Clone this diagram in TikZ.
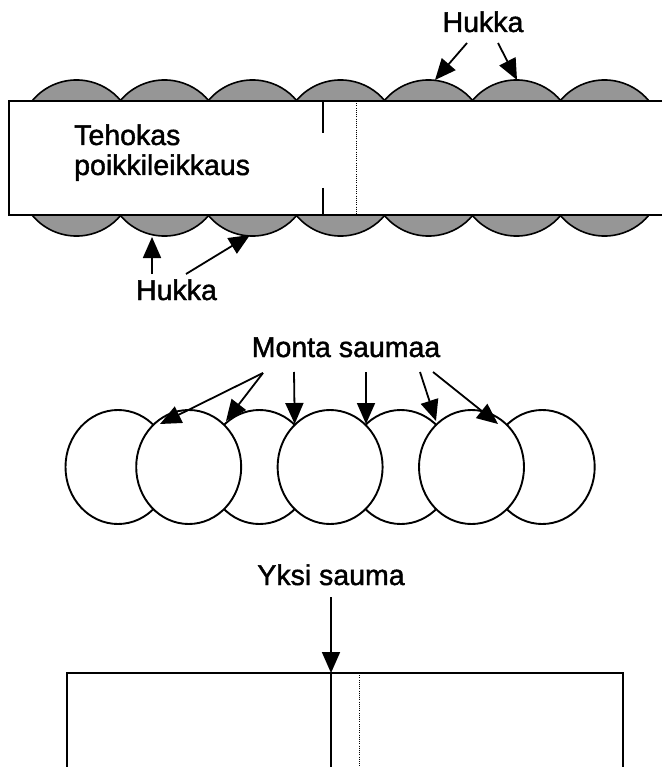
\documentclass[tikz,border=0pt]{standalone}
\usepackage{fontspec}
\setmainfont{Liberation Sans}
\newfontfamily\lblfont[FakeBold=1.5]{Liberation Sans}
\usetikzlibrary{arrows.meta}
\definecolor{hukkagray}{RGB}{150,150,150}
\begin{document}
\begin{tikzpicture}[x=1pt,y=-1pt,
  lbl/.style={font=\lblfont\fontsize{28.5}{30}\selectfont, inner sep=0pt, anchor=base},
  arr/.style={line width=1.8pt, -{Triangle[length=21pt,width=18pt]}},
  edgeline/.style={line width=1.5pt},
  seamline/.style={line width=0.8pt, dash pattern=on 1pt off 1.2pt},
  hukkacap/.style={line width=1.6pt, fill=hukkagray},
  ring/.style={line width=1.9pt, fill=white}
]
\useasboundingbox (0,0) rectangle (662,767);

% ---------- top section: waste caps ----------
\foreach \i in {0,...,6}{
  \pgfmathsetmacro\xa{32+88*\i}
  \draw[hukkacap] (\xa,101) arc[start angle=219.4,end angle=320.6,radius=57.6] -- cycle;
  \draw[hukkacap] (\xa,215) arc[start angle=140.6,end angle=39.4,radius=57.6] -- cycle;
}
% rectangle (open to the right)
\draw[edgeline] (662,101) -- (9,101) -- (9,215) -- (662,215);
\draw[edgeline] (323,101) -- (323,133);
\draw[edgeline] (323,188) -- (323,215);
\draw[seamline] (356,101) -- (356,215);

\node[lbl, anchor=base west] (teho) at (74,145) {Tehokas};
\node[lbl, anchor=base west] (poikki) at (74,175) {poikkileikkaus};

% top Hukka label and arrows
\node[lbl] (hukkaT) at (483,32) {Hukka};
\coordinate (hTs1) at (467,43);
\coordinate (hTs2) at (498,43);
\coordinate (hTt1) at (435,80);
\coordinate (hTt2) at (517,80);
\draw[arr] (hTs1) -- (hTt1);
\draw[arr] (hTs2) -- (hTt2);

% bottom Hukka label and arrows
\node[lbl] (hukkaB) at (176.5,300) {Hukka};
\coordinate (hBs1) at (152,274);
\coordinate (hBs2) at (186,274);
\coordinate (hBt1) at (152,237);
\coordinate (hBt2) at (250,235);
\draw[arr] (hBs1) -- (hBt1);
\draw[arr] (hBs2) -- (hBt2);

% ---------- middle section: many seams ----------
\foreach \cx in {118,259.4,400.8,542.2}{
  \draw[ring] (\cx,467) ellipse [x radius=52.5, y radius=57];
}
\foreach \cx in {188.7,330.1,471.5}{
  \draw[ring] (\cx,467) ellipse [x radius=52.5, y radius=57];
}
\node[lbl] (monta) at (346,357) {Monta saumaa};
\coordinate (mA) at (263,373);
\coordinate (mB) at (294,372);
\coordinate (mC) at (366,372);
\coordinate (mD) at (420,372);
\coordinate (mE) at (433,372);
\coordinate (s1) at (160,424);
\coordinate (s2) at (226,421);
\coordinate (s3) at (294.7,424);
\coordinate (s4) at (366,424);
\coordinate (s5) at (436,421);
\coordinate (s6) at (498,424);
\draw[arr] (mA) -- (s1);
\draw[arr] (mA) -- (s2);
\draw[arr] (mB) -- (s3);
\draw[arr] (mC) -- (s4);
\draw[arr] (mD) -- (s5);
\draw[arr] (mE) -- (s6);

% ---------- bottom section: single seam ----------
\draw[edgeline] (67,767) -- (67,673) -- (623,673) -- (623,767);
\draw[edgeline] (331,673) -- (331,767);
\draw[seamline] (359,673) -- (359,767);
\node[lbl] (yksi) at (331,585) {Yksi sauma};
\coordinate (yS) at (331,597);
\coordinate (yT) at (331,673);
\draw[arr] (yS) -- (yT);
\end{tikzpicture}
\end{document}
